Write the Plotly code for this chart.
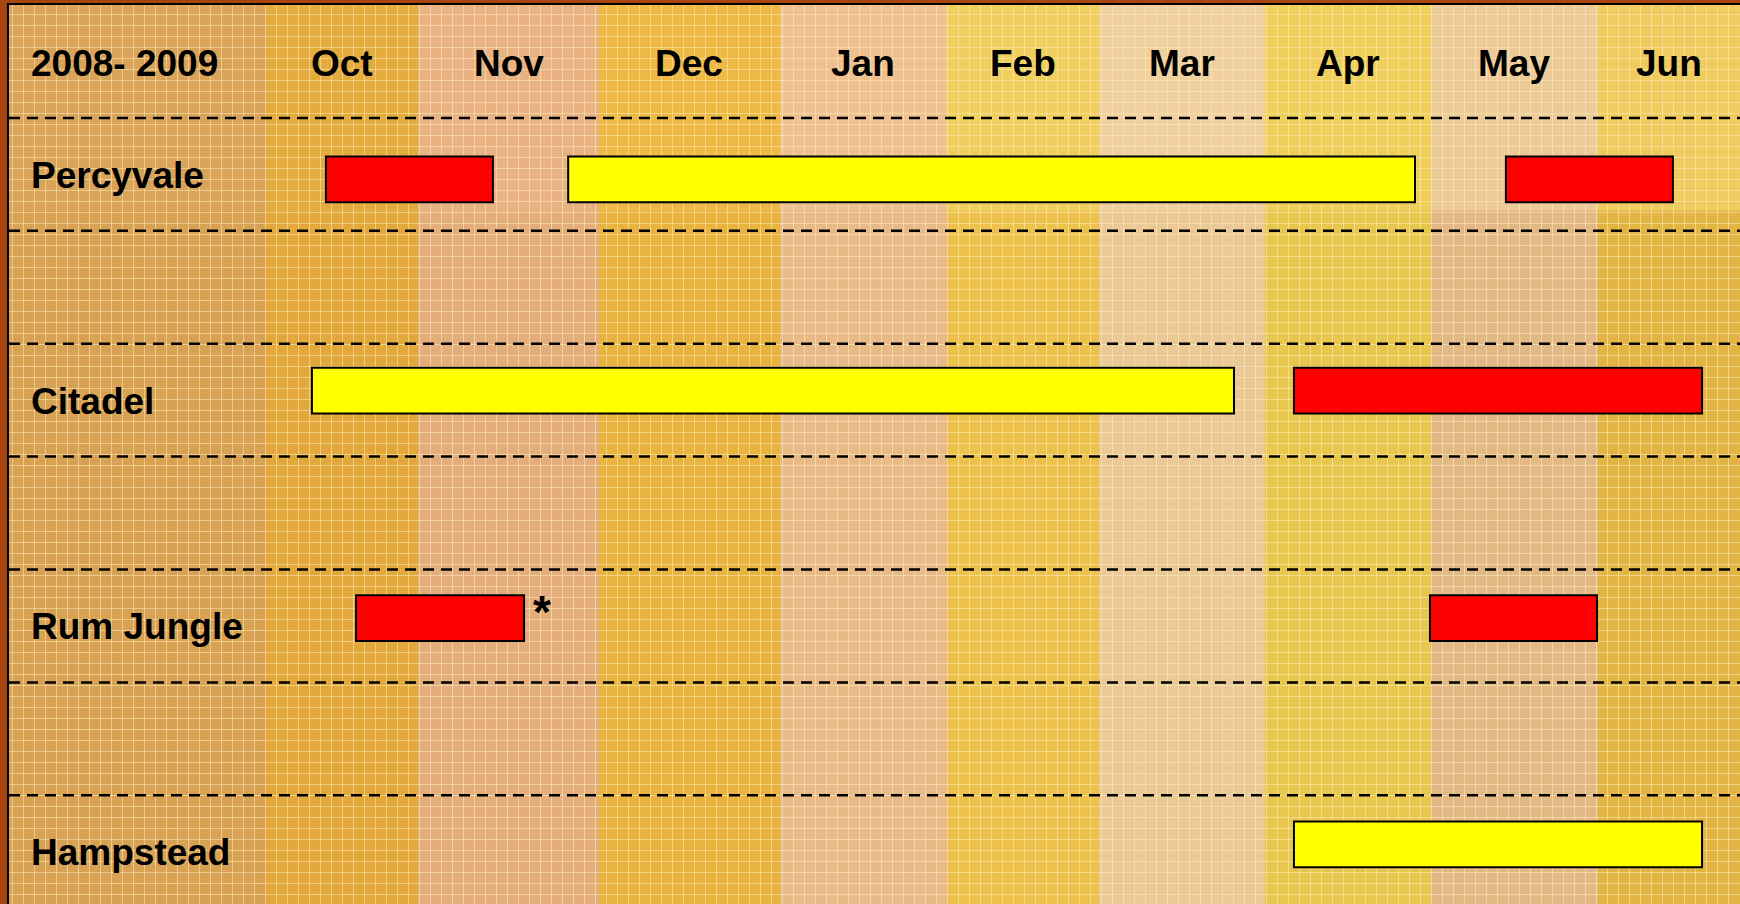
import plotly.graph_objects as go

# ---------------- data ----------------
season = "2008- 2009"
months = ["Oct", "Nov", "Dec", "Jan", "Feb", "Mar", "Apr", "May", "Jun"]
# month column edges on the timeline (month units, Oct start = 0)
month_edges = [0.0, 0.913, 2.0, 3.087, 4.09, 5.003, 6.0, 6.997, 8.0, 9.0]

sites = ["Percyvale", "Citadel", "Rum Jungle", "Hampstead"]
site_rows = [1, 3, 5, 7]

# bars: site, start, end, kind
bar_site = ["Percyvale", "Percyvale", "Percyvale", "Citadel", "Citadel",
            "Rum Jungle", "Rum Jungle", "Hampstead"]
bar_start = [0.36, 1.815, 7.447, 0.276, 6.174, 0.541, 6.991, 6.174]
bar_end = [1.363, 6.901, 8.45, 5.814, 8.625, 1.55, 7.994, 8.625]
bar_kind = ["red", "yellow", "red", "yellow", "red", "red", "red", "yellow"]
note_site = "Rum Jungle"   # asterisk after first Rum Jungle bar

# ---------------- style ----------------
FONT = "Liberation Sans, Arial, sans-serif"
kind_color = {"red": "#ff0000", "yellow": "#ffff00"}
label_band_color = "#d8a254"
label_band_top = "#d9a45a"
band_colors = ["#e2a83c", "#e4ae7c", "#e9b33f", "#e8ba88", "#ecc24c",
               "#ebc996", "#e8c74e", "#e2b985", "#e2b444"]
band_top_colors = ["#e4ab3e", "#e8b283", "#efb946", "#efc190", "#f1cf5e",
                   "#efd09e", "#efd05c", "#edcb98", "#efcb60"]
TOP_WASH_END = 1.32   # row units where the lighter upper background ends
row_nudge = {"Percyvale": 0.045, "Citadel": -0.085, "Rum Jungle": -0.07, "Hampstead": -0.065}
X_LEFT, X_RIGHT = -1.5435, 8.853
Y_TOP, Y_BOTTOM = -0.5, 7.463
W, H = 1740, 904
ML, MT = 9, 5
TXT = 37

fig = go.Figure()

# bars
for kind in ["yellow", "red"]:
    idx = [i for i, k in enumerate(bar_kind) if k == kind]
    fig.add_trace(go.Bar(
        orientation="h",
        y=[site_rows[sites.index(bar_site[i])] + row_nudge[bar_site[i]] for i in idx],
        base=[bar_start[i] for i in idx],
        x=[bar_end[i] - bar_start[i] for i in idx],
        width=0.405,
        marker=dict(color=kind_color[kind], line=dict(color="black", width=2)),
        showlegend=False, hoverinfo="skip",
    ))

# invisible trace to activate the texture axes
fig.add_trace(go.Scatter(x=[ML], y=[H], xaxis="x2", yaxis="y2", mode="markers",
                         marker=dict(opacity=0), showlegend=False, hoverinfo="skip"))

shapes = []
# label column band
shapes.append(dict(type="rect", xref="x", yref="paper", x0=X_LEFT, x1=month_edges[0],
                   y0=0, y1=1, fillcolor=label_band_color, line=dict(width=0), layer="below"))
shapes.append(dict(type="rect", xref="x", yref="y", x0=X_LEFT, x1=month_edges[0],
                   y0=Y_TOP, y1=TOP_WASH_END, fillcolor=label_band_top, line=dict(width=0),
                   layer="below"))
# month bands
for i in range(len(months)):
    shapes.append(dict(type="rect", xref="x", yref="paper", x0=month_edges[i], x1=month_edges[i + 1],
                       y0=0, y1=1, fillcolor=band_colors[i], line=dict(width=0), layer="below"))
    shapes.append(dict(type="rect", xref="x", yref="y", x0=month_edges[i], x1=month_edges[i + 1],
                       y0=Y_TOP, y1=TOP_WASH_END, fillcolor=band_top_colors[i],
                       line=dict(width=0), layer="below"))
# dashed row separators
for r in range(8):
    shapes.append(dict(type="line", xref="paper", yref="y", x0=0, x1=1, y0=r + 0.5, y1=r + 0.5,
                       line=dict(color="black", width=2.5, dash="11px,7px"), layer="above"))

annotations = []
bold = dict(family=FONT, size=TXT, color="black", weight="bold")
annotations.append(dict(x=X_LEFT + 0.12, y=0, xref="x", yref="y", text=season, showarrow=False,
                        xanchor="left", yanchor="middle", yshift=-2, font=bold))
for i, m in enumerate(months):
    xc = (month_edges[i] + min(month_edges[i + 1], X_RIGHT)) / 2
    annotations.append(dict(x=xc, y=0, xref="x", yref="y", text=m, showarrow=False,
                            xanchor="center", yanchor="middle", yshift=-2, font=bold))
for s, r in zip(sites, site_rows):
    annotations.append(dict(x=X_LEFT + 0.12, y=r, xref="x", yref="y", text=s, showarrow=False,
                            xanchor="left", yanchor="middle", yshift=-1, font=bold))
ni = bar_site.index(note_site)
annotations.append(dict(x=bar_end[ni] + 0.04, y=site_rows[sites.index(note_site)] - 0.12,
                        xref="x", yref="y", text="*", showarrow=False,
                        xanchor="left", yanchor="middle",
                        font=dict(family=FONT, size=46, color="black", weight="bold")))

fig.update_layout(
    width=W, height=H,
    margin=dict(l=ML, r=0, t=MT, b=0),
    paper_bgcolor="#a8440f",
    plot_bgcolor="#d8a254",
    barmode="overlay",
    shapes=shapes,
    annotations=annotations,
    xaxis=dict(range=[X_LEFT, X_RIGHT], showgrid=False, zeroline=False, showticklabels=False,
               ticks="", side="top", showline=True, linecolor="black", linewidth=2),
    yaxis=dict(range=[Y_BOTTOM, Y_TOP], showgrid=False, zeroline=False, showticklabels=False,
               ticks="", showline=True, linecolor="black", linewidth=2),
    xaxis2=dict(overlaying="x", range=[ML, W], tick0=12.7, dtick=11, showgrid=True,
                gridcolor="rgba(255,240,190,0.5)", gridwidth=1, zeroline=False,
                showticklabels=False, ticks="", showline=False),
    yaxis2=dict(overlaying="y", range=[H, MT], tick0=14, dtick=11, showgrid=True,
                gridcolor="rgba(255,240,190,0.5)", gridwidth=1, zeroline=False,
                showticklabels=False, ticks="", showline=False),
    hovermode=False,
)

fig.write_html("out.html", config={"displayModeBar": False},
               post_script="document.body.style.margin='0';document.body.style.overflow='hidden';")
